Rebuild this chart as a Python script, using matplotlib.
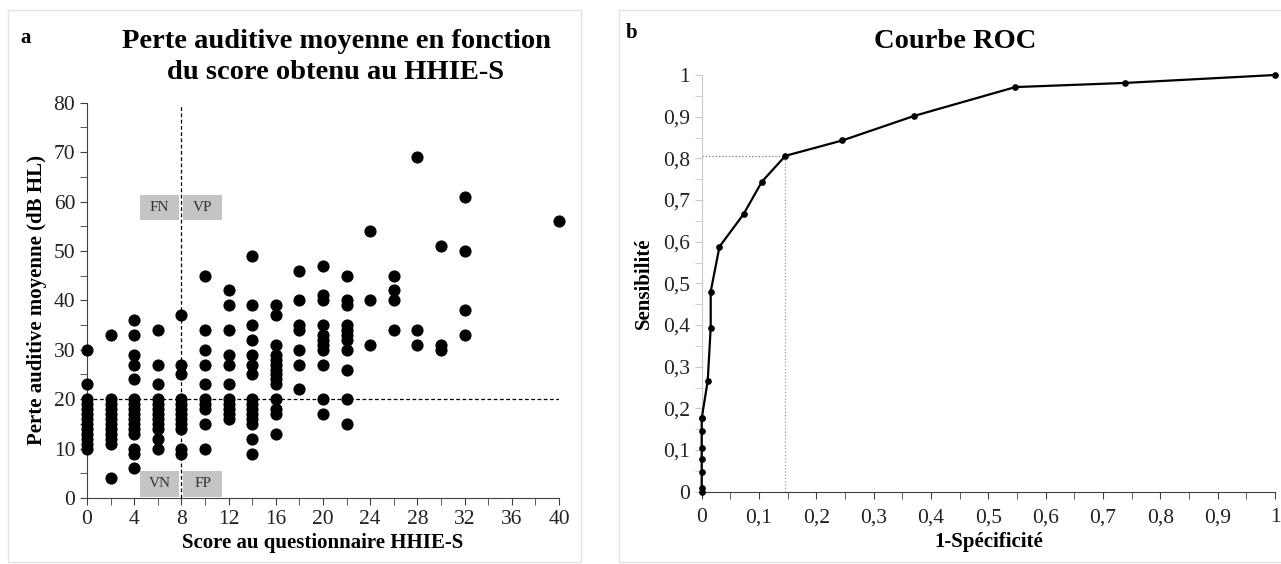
import numpy as np
import matplotlib.pyplot as plt
from matplotlib.patches import Rectangle
from matplotlib.ticker import MultipleLocator, FuncFormatter

plt.rcParams['font.family'] = ['Liberation Serif', 'DejaVu Serif']

# panel a: hearing loss by HHIE-S score
scores = [0, 2, 4, 6, 8, 10, 12, 14, 16, 18, 20, 22, 24, 26, 28, 30, 32, 40]
losses = [
    [30, 23, 20, 19, 18, 17, 16, 15, 14, 13, 12, 11, 10],
    [33, 20, 19, 18, 17, 16, 15, 14, 13, 12, 11, 4],
    [36, 33, 29, 27, 24, 20, 19, 18, 17, 16, 15, 14, 13, 10, 9, 6],
    [34, 27, 23, 20, 19, 18, 17, 16, 15, 14, 12, 10],
    [37, 27, 25, 20, 19, 18, 17, 16, 15, 14, 10, 9],
    [45, 34, 30, 27, 23, 20, 19, 18, 15, 10],
    [42, 39, 34, 29, 27, 23, 20, 19, 18, 17, 16],
    [49, 39, 35, 32, 29, 27, 25, 20, 19, 18, 17, 16, 15, 12, 9],
    [39, 37, 31, 29, 28, 27, 26, 25, 24, 23, 20, 18, 17, 13],
    [46, 40, 35, 34, 30, 27, 22],
    [47, 41, 40, 35, 33, 32, 31, 30, 27, 20, 17],
    [45, 40, 39, 35, 34, 33, 32, 30, 26, 20, 15],
    [54, 40, 31],
    [45, 42, 40, 34],
    [69, 34, 31],
    [51, 31, 30],
    [61, 50, 38, 33],
    [56],
]
score_cut = 8
loss_cut = 20

# panel b: ROC curve
fpr = [0, 0, 0, 0, 0, 0, 0, 0, 0.0105, 0.0157, 0.0157, 0.031, 0.073, 0.105,
       0.146, 0.2455, 0.371, 0.547, 0.739, 1.0]
tpr = [0, 0.01, 0.048, 0.078, 0.106, 0.146, 0.176, 0.176, 0.266, 0.394, 0.48,
       0.588, 0.666, 0.744, 0.806, 0.843, 0.902, 0.971, 0.981, 1.0]
best_fpr, best_tpr = 0.146, 0.806

fig = plt.figure(figsize=(12.81, 5.64), dpi=100)

# light panel frames
for x0, x1 in [(8, 581), (619, 1290)]:
    fig.patches.append(Rectangle((x0 / 1281, 2 / 564), (x1 - x0) / 1281, 552 / 564,
                                 transform=fig.transFigure, fill=False,
                                 edgecolor='#e4e4e4', lw=1))

axis_col = '#404040'
tick_fs = 15.5
lab_fs = 15

# ---- panel a
ax1 = fig.add_axes([87 / 1281, 1 - 498 / 564, 472 / 1281, 395.3 / 564])
xs = np.concatenate([[s] * len(l) for s, l in zip(scores, losses)])
ys = np.concatenate(losses)
ax1.scatter(xs, ys, s=60, color='black', zorder=3, clip_on=False)
ax1.plot([score_cut, score_cut], [0, 79.5], ls=(0, (3, 2)), color='black', lw=0.9)
ax1.plot([0, 40.5], [loss_cut, loss_cut], ls=(0, (3, 2)), color='black', lw=0.9)

for (bx, by, lab) in [(4.5, 56.3, 'FN'), (8.15, 56.3, 'VP'),
                      (4.5, 0.3, 'VN'), (8.15, 0.3, 'FP')]:
    ax1.add_patch(Rectangle((bx, by), 3.3, 5.1, color='#c4c4c4', zorder=1, lw=0))
    ax1.text(bx + 1.65, by + 2.55, lab, ha='center', va='center', fontsize=11,
             color='#333333', zorder=2)

ax1.set_xlim(0, 40)
ax1.set_ylim(0, 80)
ax1.xaxis.set_major_locator(MultipleLocator(4))
ax1.xaxis.set_minor_locator(MultipleLocator(2))
ax1.yaxis.set_major_locator(MultipleLocator(10))
ax1.yaxis.set_minor_locator(MultipleLocator(5))
for sp in ['top', 'right']:
    ax1.spines[sp].set_visible(False)
for sp in ['left', 'bottom']:
    ax1.spines[sp].set_color(axis_col)
ax1.tick_params(which='both', direction='out', color=axis_col, length=5,
                labelsize=tick_fs, labelcolor='#222222')
ax1.set_xlabel('Score au questionnaire HHIE-S', fontsize=lab_fs, fontweight='bold',
               labelpad=3)
ax1.set_ylabel('Perte auditive moyenne (dB HL)', fontsize=lab_fs, fontweight='bold',
               labelpad=5)
fig.text(336 / 1281, 1 - 42 / 564, 'Perte auditive moyenne en fonction',
         ha='center', va='center', fontsize=20.5, fontweight='bold')
fig.text(336 / 1281, 1 - 73 / 564, 'du score obtenu au HHIE-S',
         ha='center', va='center', fontsize=20.5, fontweight='bold')
fig.text(20 / 1281, 1 - 38 / 564, 'a', ha='left', va='center', fontsize=15,
         fontweight='bold')

# ---- panel b
ax2 = fig.add_axes([701.7 / 1281, 1 - 491.7 / 564, 573.3 / 1281, 416.7 / 564])
ax2.plot([0, best_fpr], [best_tpr, best_tpr], ls=':', color='#777777', lw=0.9)
ax2.plot([best_fpr, best_fpr], [0, best_tpr], ls=':', color='#999999', lw=0.9)
ax2.plot(fpr, tpr, color='black', lw=1.6, marker='o', markersize=3.8,
         clip_on=False, zorder=3)
ax2.set_xlim(0, 1)
ax2.set_ylim(0, 1)
ax2.xaxis.set_major_locator(MultipleLocator(0.1))
ax2.xaxis.set_minor_locator(MultipleLocator(0.05))
ax2.yaxis.set_major_locator(MultipleLocator(0.1))
ax2.yaxis.set_minor_locator(MultipleLocator(0.05))
fmt = FuncFormatter(lambda v, p: ('%g' % round(v, 2)).replace('.', ','))
ax2.xaxis.set_major_formatter(fmt)
ax2.yaxis.set_major_formatter(fmt)
for sp in ['top', 'right']:
    ax2.spines[sp].set_visible(False)
ax2.spines['bottom'].set_color(axis_col)
ax2.spines['left'].set_color('#c8c8c8')
ax2.tick_params(axis='x', which='both', direction='out', color=axis_col, length=5)
ax2.tick_params(axis='y', which='both', direction='out', color='#c8c8c8', length=5)
ax2.tick_params(labelsize=tick_fs, labelcolor='#222222')
ax2.tick_params(axis='x', pad=7)
ax2.set_xlabel('1-Spécificité', fontsize=lab_fs, fontweight='bold', labelpad=3)
ax2.set_ylabel('Sensibilité', fontsize=lab_fs, fontweight='bold', labelpad=6)
fig.text(955 / 1281, 1 - 42 / 564, 'Courbe ROC', ha='center', va='center',
         fontsize=20.5, fontweight='bold')
fig.text(626 / 1281, 1 - 33 / 564, 'b', ha='left', va='center', fontsize=15,
         fontweight='bold')

fig.savefig('out.png', dpi=100)
